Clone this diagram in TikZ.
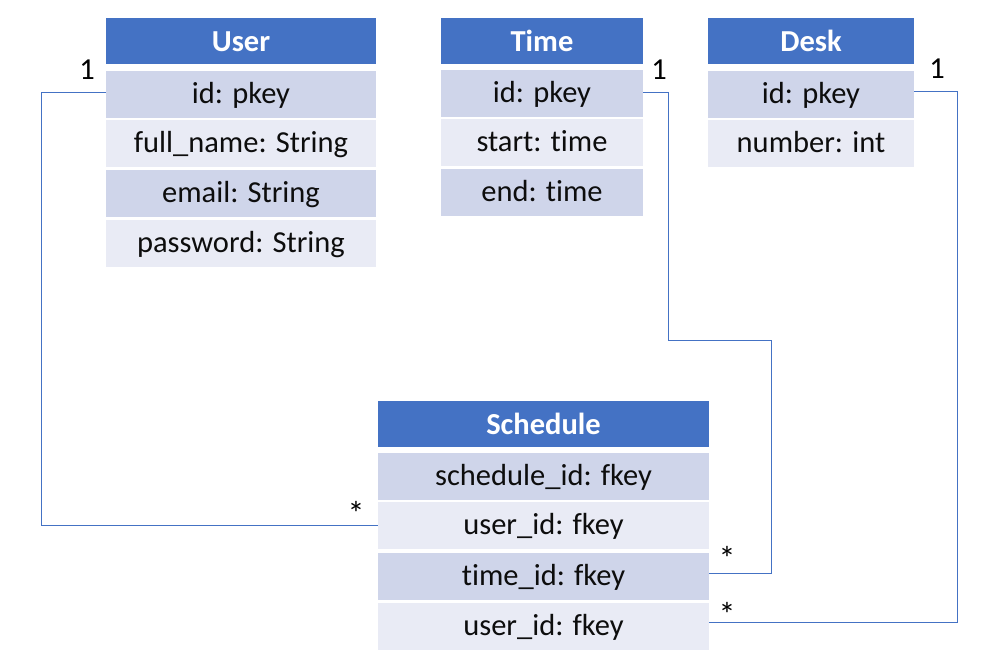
\documentclass[tikz,border=0pt]{standalone}
\usepackage{fontspec}
\setmainfont{Carlito}[Ligatures=NoCommon]
\definecolor{hdr}{HTML}{4472C4}
\definecolor{rowd}{HTML}{CFD5EA}
\definecolor{rowl}{HTML}{E9EBF5}
\definecolor{txt}{HTML}{0D0D0D}
\begin{document}
\begin{tikzpicture}[x=1pt,y=-1pt,
  cell/.style={rectangle,inner sep=0pt,minimum height=47pt,text=txt,text height=25pt,text depth=6.5pt,font=\fontsize{30.5}{36}\selectfont},
  head/.style={cell,fill=hdr,minimum height=46pt,text=white,text height=27pt,text depth=5.6pt,font=\fontsize{30.5}{36}\selectfont\bfseries},
  dark/.style={cell,fill=rowd},
  light/.style={cell,fill=rowl},
  link/.style={draw=hdr,line width=1pt},
  mult/.style={inner sep=0pt,text=black,font=\fontsize{30.5}{36}\selectfont},
  star/.style={inner sep=0pt,text=black,font=\fontsize{34}{40}\selectfont}]
\useasboundingbox (0,0) rectangle (998,670);
% User
\begin{scope}[every node/.append style={minimum width=270pt}]
\node[head]  (uh)   at (241,41)  {User};
\node[dark]  (uid)  at (241,94)  {id: pkey};
\node[light] (ufn)  at (241,143) {full\_name: String};
\node[dark]  (uem)  at (241,193) {email: String};
\node[light] (upw)  at (241,243) {password: String};
\end{scope}
% Time
\begin{scope}[every node/.append style={minimum width=202pt}]
\node[head]  (th)   at (542,41)  {Time};
\node[dark]  (tid)  at (542,93.5){id: pkey};
\node[light] (tst)  at (542,142.5) {start: time};
\node[dark]  (ten)  at (542,192.5) {end: time};
\end{scope}
% Desk
\begin{scope}[every node/.append style={minimum width=206pt}]
\node[head]  (dh)   at (811,41)  {Desk};
\node[dark]  (did)  at (811,94)  {id: pkey};
\node[light] (dnum) at (811,143) {number: int};
\end{scope}
% Schedule
\begin{scope}[every node/.append style={minimum width=331pt}]
\node[head]  (sh)   at (543.5,424) {Schedule};
\node[dark]  (ssid) at (543.5,476) {schedule\_id: fkey};
\node[light] (suid) at (543.5,525.5) {user\_id: fkey};
\node[dark]  (stid) at (543.5,576) {time\_id: fkey};
\node[light] (sdid) at (543.5,626) {user\_id: fkey};
\end{scope}
% corner coordinates
\coordinate (ux) at (41,0);
\coordinate (tx1) at (668.5,340);
\coordinate (tx2) at (771.5,340);
\coordinate (dx) at (957,622);
\coordinate (dend) at (709,622);
% connectors
\draw[link] ([yshift=1.7pt]uid.west) -| (ux |- suid.west) -- (suid.west);
\draw[link] ([yshift=1.2pt]tid.east) -| (tx1) -- (tx2) |- ([yshift=2.7pt]stid.east);
\draw[link] ([yshift=2.5pt]did.east) -| (dx) -- (dend);
% multiplicities
\node[mult] (m1) at (87,70) {1};
\node[mult] (m2) at (659,70) {1};
\node[mult] (m3) at (937,69) {1};
\node[star] (m4) at (356,513) {*};
\node[star] (m5) at (727,558) {*};
\node[star] (m6) at (727,614) {*};
\end{tikzpicture}
\end{document}
